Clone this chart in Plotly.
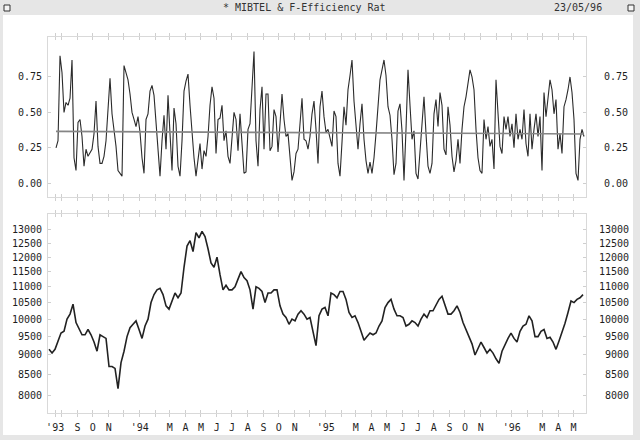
import plotly.graph_objects as go
import pandas as pd

# ---------------- data ----------------
osc_a = [0.25, 0.30, 0.90, 0.78, 0.50, 0.57, 0.55, 0.60, 0.87, 0.18,
         0.09, 0.43, 0.45, 0.33, 0.12, 0.24, 0.19, 0.22, 0.24, 0.35,
         0.58, 0.26, 0.14, 0.14, 0.19, 0.30, 0.53, 0.74, 0.49, 0.37,
         0.26, 0.09, 0.07, 0.05, 0.83, 0.78, 0.73, 0.63, 0.50, 0.45,
         0.40, 0.47, 0.36, 0.18, 0.07, 0.45, 0.49, 0.65, 0.69, 0.62,
         0.42, 0.22, 0.05, 0.30, 0.48, 0.24, 0.62, 0.35, 0.09, 0.53,
         0.42, 0.12, 0.05, 0.30, 0.65, 0.72, 0.77, 0.55, 0.35, 0.18,
         0.05, 0.19, 0.28, 0.10, 0.23, 0.19, 0.33, 0.55, 0.68, 0.60,
         0.21, 0.45, 0.46, 0.55, 0.30, 0.37]
osc_b = [0.19, 0.14, 0.31, 0.50, 0.45, 0.23, 0.49, 0.27, 0.07, 0.08,
         0.38, 0.42, 0.68, 0.93, 0.30, 0.12, 0.52, 0.68, 0.24, 0.63,
         0.63, 0.23, 0.26, 0.52, 0.47, 0.22, 0.42, 0.63, 0.45, 0.33,
         0.35, 0.19, 0.02, 0.08, 0.21, 0.24, 0.40, 0.60, 0.31, 0.30,
         0.24, 0.33, 0.49, 0.58, 0.38, 0.14, 0.54, 0.65, 0.47, 0.36,
         0.38, 0.31, 0.26, 0.51, 0.47, 0.14, 0.05, 0.29, 0.54, 0.41,
         0.66, 0.76, 0.87, 0.58, 0.38, 0.24, 0.42, 0.56, 0.31, 0.16,
         0.07, 0.15, 0.07, 0.18, 0.35, 0.58, 0.73, 0.80, 0.87, 0.76,
         0.54, 0.48, 0.31, 0.06, 0.14, 0.51, 0.56, 0.37, 0.02, 0.38]
osc_c = [0.80, 0.55, 0.31, 0.37, 0.07, 0.03, 0.24, 0.45, 0.61, 0.35,
         0.12, 0.07, 0.14, 0.49, 0.59, 0.40, 0.64, 0.55, 0.24, 0.20,
         0.54, 0.41, 0.19, 0.08, 0.16, 0.31, 0.14, 0.38, 0.54, 0.61,
         0.71, 0.80, 0.75, 0.66, 0.38, 0.18, 0.09, 0.07, 0.45, 0.31,
         0.40, 0.26, 0.31, 0.10, 0.73, 0.50, 0.26, 0.21, 0.47, 0.38,
         0.47, 0.33, 0.42, 0.25, 0.49, 0.31, 0.38, 0.31, 0.52, 0.28,
         0.19, 0.49, 0.24, 0.38, 0.49, 0.33, 0.47, 0.09, 0.64, 0.47,
         0.59, 0.73, 0.66, 0.49, 0.59, 0.24, 0.35, 0.21, 0.54, 0.59,
         0.66, 0.75, 0.64, 0.45, 0.07, 0.02, 0.31, 0.38, 0.33]
osc_first, osc_last = "1993-07-20 17:00", "1996-05-21 16:00"
mean_line = [0.366, 0.348]

price = [9150, 9050, 9150, 9400, 9600, 9650, 10000, 10150, 10450, 9900,
         9700, 9550, 9550, 9700, 9550, 9350, 9100, 9550, 9500, 9450,
         8700, 8700, 8650, 8150, 8800, 9100, 9500, 9750, 9850, 9950,
         9700, 9450, 9800, 10000, 10500, 10750, 10900, 10950, 10750, 10400,
         10300, 10550, 10800, 10650, 10800, 11650, 12400, 12600, 12200, 12900,
         12700, 12950, 12750, 12300, 11800, 11650, 12000, 11400, 10900, 11050,
         10900, 10900, 11000, 11250, 11500, 11300, 11200, 10900, 10300, 11000,
         10950, 10850, 10500, 10800, 10800, 10900, 10900, 10400, 10150, 10050,
         9850, 10000, 9950, 10150, 10250, 10150, 10000, 10050, 9600, 9250,
         10100, 10300, 10350, 10100, 10800, 10750, 10650, 10850, 10850, 10600,
         10200, 10050, 10100, 9900, 9650, 9400, 9500, 9600, 9550, 9600,
         9800, 9950, 10350, 10500, 10600, 10300, 10100, 10100, 10050, 9800,
         9850, 9950, 9900, 9800, 10000, 10150, 10050, 10250, 10250, 10450,
         10600, 10700, 10400, 10150, 10150, 10250, 10400, 10200, 9900, 9700,
         9500, 9300, 9000, 9200, 9350, 9200, 9050, 9150, 9050, 8900,
         8780, 9100, 9300, 9450, 9600, 9450, 9350, 9650, 9800, 9850,
         10100, 9950, 9500, 9500, 9650, 9700, 9450, 9480, 9350, 9150,
         9380, 9600, 9880, 10200, 10550, 10500, 10600, 10650, 10750]
price_first, price_last = "1993-07-07", "1996-05-19 17:00"

osc_ticks = [0.0, 0.25, 0.5, 0.75]
osc_labels = ["0.00", "0.25", "0.50", "0.75"]
price_ticks = [8000, 8500, 9000, 9500, 10000, 10500, 11000, 11500, 12000, 12500, 13000]
price_labels = ["8000", "8500", "9000", "9500", "10000", "10500", "11000",
                "11500", "12000", "12500", "13000"]

month_ticks = ["1993-07-19", "1993-08-01", "1993-09-01", "1993-10-01", "1993-11-01", "1993-12-01",
               "1994-01-01", "1994-02-01", "1994-03-01", "1994-04-01", "1994-05-01", "1994-06-01",
               "1994-07-01", "1994-08-01", "1994-09-01", "1994-10-01", "1994-11-01", "1994-12-01",
               "1995-01-01", "1995-02-01", "1995-03-01", "1995-04-01", "1995-05-01", "1995-06-01",
               "1995-07-01", "1995-08-01", "1995-09-01", "1995-10-01", "1995-11-01", "1995-12-01",
               "1996-01-01", "1996-02-01", "1996-03-01", "1996-04-01", "1996-05-01"]
month_labels = ["'93", "", "S", "O", "N", "",
                "'94", "", "M", "A", "M", "J",
                "J", "A", "S", "O", "N", "",
                "'95", "", "M", "A", "M", "J",
                "J", "A", "S", "O", "N", "",
                "'96", "", "M", "A", "M"]

title_text = "* MIBTEL & F-Efficiency Rat"
date_text = "23/05/96"

# ---------------- figure ----------------
osc_dates = pd.date_range(osc_first, osc_last, periods=len(osc_a) + len(osc_b) + len(osc_c))
osc = osc_a + osc_b + osc_c
price_dates = pd.date_range(price_first, price_last, periods=len(price))

FONT = "DejaVu Sans Mono"
TXT = "#1e1e1e"
FRAME = "#d9d9d9"
TICKC = "#cfcfcf"
x_range = ["1993-07-05", "1996-05-25 14:00"]
osc_range = [-0.097, 1.032]
price_range = [3.8801, 4.1344]

fig = go.Figure()
fig.add_trace(go.Scatter(x=osc_dates, y=osc, mode="lines",
                         line=dict(color="#2b2b2b", width=1.1),
                         xaxis="x", yaxis="y", hoverinfo="skip", showlegend=False))
fig.add_trace(go.Scatter(x=[osc_dates[0], osc_dates[-1]], y=mean_line, mode="lines",
                         line=dict(color="#858585", width=1.6),
                         xaxis="x", yaxis="y3", hoverinfo="skip", showlegend=False))
fig.add_trace(go.Scatter(x=price_dates, y=price, mode="lines",
                         line=dict(color="#222222", width=1.6),
                         xaxis="x2", yaxis="y2", hoverinfo="skip", showlegend=False))
fig.add_trace(go.Scatter(x=price_dates, y=price, mode="lines", opacity=0,
                         line=dict(color="#222222", width=0.5),
                         xaxis="x2", yaxis="y4", hoverinfo="skip", showlegend=False))

common_x = dict(type="date", range=x_range, tickmode="array", tickvals=month_ticks,
                ticks="inside", ticklen=3, tickcolor=TICKC, showline=True, linecolor=FRAME,
                linewidth=1, mirror="allticks", showgrid=False, zeroline=False)
fig.update_layout(
    width=640, height=440,
    margin=dict(l=48, r=54, t=37, b=27, autoexpand=False),
    paper_bgcolor="#e6e6e6", plot_bgcolor="white",
    font=dict(family=FONT, size=10, color=TXT),
    xaxis=dict(domain=[0, 1], anchor="y", showticklabels=False, **common_x),
    xaxis2=dict(domain=[0, 1], anchor="y2", ticktext=month_labels, showticklabels=True,
                tickfont=dict(family=FONT, size=10, color=TXT), ticklabelstandoff=5,
                **common_x),
    yaxis=dict(domain=[0.5745, 1], anchor="x", range=osc_range, tickmode="array",
               tickvals=osc_ticks, ticktext=osc_labels, ticks="inside", ticklen=3,
               tickcolor=TICKC, showline=True, linecolor=FRAME, mirror="allticks",
               showgrid=False, zeroline=False, ticklabelstandoff=3),
    yaxis3=dict(overlaying="y", anchor="x", side="right", range=osc_range, tickmode="array",
                tickvals=osc_ticks, ticktext=osc_labels, ticks="", showline=False,
                showgrid=False, zeroline=False, ticklabelstandoff=17),
    yaxis2=dict(domain=[0, 0.5293], anchor="x2", type="log", range=price_range,
                tickmode="array", tickvals=price_ticks, ticktext=price_labels,
                ticks="inside", ticklen=3, tickcolor=TICKC, showline=True, linecolor=FRAME,
                mirror="allticks", showgrid=False, zeroline=False, ticklabelstandoff=3),
    yaxis4=dict(overlaying="y2", anchor="x2", side="right", type="log", range=price_range,
                tickmode="array", tickvals=price_ticks,
                ticktext=[("\u00a0" * (5 - len(t))) + t for t in price_labels],
                ticks="", showline=False, showgrid=False, zeroline=False,
                ticklabelstandoff=12),
)

def px_x(p):
    return (p - 48) / 538.0

def px_y(p):
    return (413 - p) / 376.0

shapes = [
    dict(type="rect", xref="paper", yref="paper", x0=px_x(3), x1=px_x(633),
         y0=px_y(435), y1=px_y(15), fillcolor="white", line=dict(width=0), layer="below"),
    dict(type="rect", xref="paper", yref="paper", x0=px_x(4), x1=px_x(10),
         y0=px_y(11), y1=px_y(5), fillcolor="#f4f4f4", line=dict(color="#333333", width=1)),
    dict(type="rect", xref="paper", yref="paper", x0=px_x(628), x1=px_x(634),
         y0=px_y(11), y1=px_y(5), fillcolor="#f4f4f4", line=dict(color="#333333", width=1)),
]
fig.update_layout(shapes=shapes)
fig.add_annotation(text=title_text, xref="paper", yref="paper", x=px_x(304), y=px_y(8),
                   showarrow=False, xanchor="center", yanchor="middle",
                   font=dict(family=FONT, size=10, color="#333333"))
fig.add_annotation(text=date_text, xref="paper", yref="paper", x=px_x(578), y=px_y(8),
                   showarrow=False, xanchor="center", yanchor="middle",
                   font=dict(family=FONT, size=10, color="#333333"))

fig.write_html("out.html")
